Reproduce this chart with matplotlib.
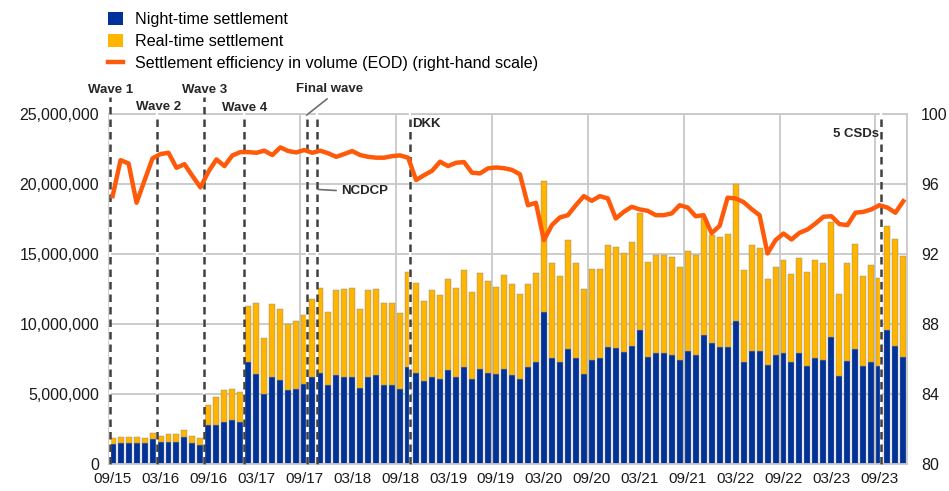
import numpy as np
import matplotlib.pyplot as plt
from matplotlib.patches import Patch
from matplotlib.lines import Line2D
from matplotlib.ticker import FuncFormatter

plt.rcParams['font.family'] = ['Liberation Sans', 'DejaVu Sans']

# monthly data 09/15 .. 12/23, volumes in millions
night = [1.36, 1.46, 1.46, 1.46, 1.46, 1.72, 1.55, 1.55, 1.55, 1.91,
         1.46, 1.29, 2.74, 2.74, 3.00, 3.10, 3.00, 7.23, 6.42, 4.96,
         6.16, 5.97, 5.23, 5.32, 5.68, 6.16, 6.49, 5.61, 6.30, 6.20,
         6.20, 5.42, 6.16, 6.30, 5.61, 5.61, 5.32, 6.87, 6.49, 5.87,
         6.20, 6.06, 6.68, 6.20, 6.87, 6.06, 6.78, 6.49, 6.40, 6.78,
         6.32, 6.04, 6.87, 7.23, 10.81, 7.52, 7.23, 8.16, 7.52, 6.40,
         7.40, 7.52, 8.33, 8.23, 7.97, 8.42, 9.55, 7.61, 7.88, 7.88,
         7.78, 7.42, 8.07, 7.78, 9.16, 8.62, 8.33, 8.33, 10.19, 7.23,
         8.07, 8.07, 7.04, 7.78, 7.88, 7.23, 7.88, 6.97, 7.52, 7.42,
         9.07, 6.25, 7.33, 8.16, 6.97, 7.23, 6.97, 9.55, 8.42, 7.61]
realtime = [0.43, 0.45, 0.45, 0.45, 0.33, 0.45, 0.45, 0.53, 0.53, 0.52,
            0.54, 0.50, 1.48, 2.03, 2.23, 2.22, 2.13, 4.06, 5.06, 4.04,
            5.22, 5.06, 4.77, 4.87, 4.94, 5.58, 6.06, 5.20, 6.09, 6.26,
            6.38, 5.65, 6.23, 6.16, 5.85, 5.85, 5.42, 6.81, 6.45, 5.78,
            6.19, 5.97, 6.54, 6.38, 6.97, 6.23, 6.87, 6.54, 6.25, 6.70,
            6.52, 6.06, 5.97, 6.37, 9.38, 6.80, 6.16, 7.81, 6.80, 6.08,
            6.54, 6.42, 7.28, 7.28, 7.07, 7.45, 8.40, 6.78, 7.06, 7.06,
            6.99, 6.61, 7.16, 7.16, 8.38, 7.70, 7.90, 8.09, 9.79, 6.61,
            7.54, 7.32, 6.18, 6.25, 6.70, 6.35, 6.80, 6.71, 7.06, 6.90,
            8.19, 5.85, 6.99, 7.52, 6.42, 6.99, 6.32, 7.42, 7.62, 7.26]
efficiency = [95.30, 97.36, 97.17, 94.92, 96.20, 97.46, 97.71, 97.78, 96.92, 97.13,
              96.45, 95.80, 96.70, 97.40, 97.02, 97.63, 97.82, 97.82, 97.78, 97.90,
              97.65, 98.09, 97.88, 97.80, 97.94, 97.78, 97.90, 97.75, 97.55, 97.71,
              97.88, 97.65, 97.55, 97.50, 97.50, 97.59, 97.63, 97.50, 96.22, 96.50,
              96.75, 97.27, 97.02, 97.21, 97.25, 96.64, 96.60, 96.89, 96.94, 96.90,
              96.80, 96.55, 94.78, 94.92, 92.78, 93.64, 94.08, 94.21, 94.78, 95.30,
              95.03, 95.30, 95.17, 94.02, 94.40, 94.69, 94.54, 94.46, 94.21, 94.21,
              94.31, 94.78, 94.65, 94.15, 94.21, 93.18, 93.60, 95.21, 95.17, 94.96,
              94.56, 94.21, 92.02, 92.78, 93.16, 92.82, 93.20, 93.39, 93.73, 94.12,
              94.15, 93.70, 93.64, 94.35, 94.40, 94.54, 94.78, 94.65, 94.35, 95.01]

tick_labels = ['09/15', '03/16', '09/16', '03/17', '09/17', '03/18', '09/18', '03/19',
               '09/19', '03/20', '09/20', '03/21', '09/21', '03/22', '09/22', '03/23', '09/23']

# events (position in months from 09/15)
event_names = ['Wave 1', 'Wave 2', 'Wave 3', 'Wave 4', 'Final wave', 'NCDCP', 'DKK', '5 CSDs']
event_pos = [-0.35, 5.5, 11.5, 16.5, 24.35, 25.55, 37.25, 96.2]

BLUE = '#003299'
YELLOW = '#FFB400'
ORANGE = '#FF5A0A'
GRID = '#C8C8C8'
DASH = '#404040'

W, H = 949, 491
fig = plt.figure(figsize=(W / 100, H / 100), dpi=100)
ax = fig.add_axes([109 / W, 1 - 463.5 / H, (907.3 - 109) / W, (463.5 - 114) / H])

x = np.arange(len(night))
night_v = np.array(night) * 1e6
real_v = np.array(realtime) * 1e6

ax.bar(x, night_v, width=0.75, color=BLUE, edgecolor='#8a8a8a', linewidth=0.3, zorder=2)
ax.bar(x, real_v, width=0.75, bottom=night_v, color=YELLOW, edgecolor='#8a8a8a',
       linewidth=0.3, zorder=2)

ax.set_xlim(-0.45, len(night) - 0.5)
ax.set_ylim(0, 25e6)
ax.set_yticks(np.arange(0, 25e6 + 1, 5e6))
ax.yaxis.set_major_formatter(FuncFormatter(lambda v, p: f'{int(v):,}'))
ax.set_xticks(np.arange(0, 97, 6))
ax.set_xticklabels(tick_labels)
ax.tick_params(axis='x', length=0, labelsize=11, colors='#1a1a1a', pad=6)
ax.tick_params(axis='y', length=0, labelsize=11.5, colors='#1a1a1a', pad=7)
ax.yaxis.grid(True, color=GRID, linewidth=1.3, zorder=0)
for gx in np.arange(11.5, 96, 12):
    ax.axvline(gx, color=GRID, linewidth=1.3, zorder=0)
for s in ax.spines.values():
    s.set_color(GRID)
    s.set_linewidth(1.3)
ax.set_axisbelow(True)

# dashed event lines
tops = [1.05, 1.0, 1.05, 1.0, 1.0, 1.0, 1.0, 1.0]
for pos, top in zip(event_pos, tops):
    ax.axvline(pos, ymin=0, ymax=top, color='white', linewidth=1.6, zorder=3, clip_on=False)
    ax.axvline(pos, ymin=0, ymax=top, color=DASH, linewidth=1.8, linestyle=(0, (3, 2)),
               zorder=3, clip_on=False)

ax2 = ax.twinx()
ax2.plot(x, efficiency, color=ORANGE, linewidth=3.2, solid_joinstyle='round', zorder=5)
ax2.set_ylim(80, 100)
ax2.set_yticks(np.arange(80, 101, 4))
ax2.tick_params(length=0, labelsize=11.5, colors='#1a1a1a', pad=10)
for s in ax2.spines.values():
    s.set_visible(False)

# event labels
lab = dict(fontsize=9.5, fontweight='bold', color='#262626')
def fx(px):
    return px / W
def fy(py):
    return 1 - py / H
fig.text(fx(111), fy(90), event_names[0], ha='center', va='center', **lab)
fig.text(fx(159), fy(107), event_names[1], ha='center', va='center', **lab)
fig.text(fx(205), fy(90), event_names[2], ha='center', va='center', **lab)
fig.text(fx(245), fy(108), event_names[3], ha='center', va='center', **lab)
fig.text(fx(330), fy(89), event_names[4], ha='center', va='center', **lab)
fig.add_artist(Line2D([fx(306.7), fx(327)], [fy(115), fy(99)], color='#6e6e6e', linewidth=1.2))
fig.text(fx(341), fy(191), event_names[5], ha='left', va='center', **lab)
fig.add_artist(Line2D([fx(318.5), fx(336)], [fy(189.5), fy(190.5)], color='#6e6e6e', linewidth=1.2))
fig.text(fx(412), fy(124), event_names[6], ha='left', va='center', **lab)
fig.text(fx(879), fy(134), event_names[7], ha='right', va='center', **lab)

handles = [Patch(facecolor=BLUE), Patch(facecolor=YELLOW),
           Line2D([0], [0], color=ORANGE, linewidth=3.2)]
labels = ['Night-time settlement', 'Real-time settlement',
          'Settlement efficiency in volume (EOD) (right-hand scale)']
fig.legend(handles, labels, loc='upper left', bbox_to_anchor=(fx(108), fy(12)),
           frameon=False, fontsize=11.6, handlelength=0.9, handleheight=0.9,
           handletextpad=0.8, labelspacing=0.42, borderpad=0, borderaxespad=0)

fig.savefig('out.png', dpi=100)
